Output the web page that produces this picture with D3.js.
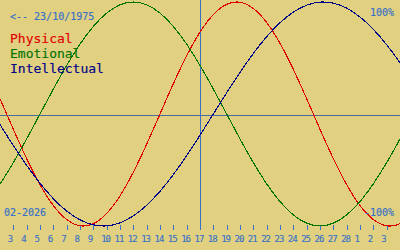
<!DOCTYPE html>
<html><head><meta charset="utf-8">
<script src="https://cdn.jsdelivr.net/npm/d3@7"></script>
<style>
html,body{margin:0;padding:0;background:#e0d080;}
svg{display:block;}
text{font-family:"DejaVu Sans Mono",monospace;}
</style></head>
<body>
<script>
// Day labels: Feb 1 .. Feb 28, Mar 1 .. Mar 5 (index = position in month sequence, Feb 1 = 1)
const dayLabels = ["1","2","3","4","5","6","7","8","9","10","11","12","13","14","15","16","17","18","19","20","21","22","23","24","25","26","27","28","1","2","3","4","5"];
const physical = [0.3984,0.1362,-0.1362,-0.3984,-0.6310,-0.8170,-0.9423,-0.9977,-0.9791,-0.8880,-0.7308,-0.5196,-0.2698,0,0.2698,0.5196,0.7308,0.8880,0.9791,0.9977,0.9423,0.8170,0.6310,0.3984,0.1362,-0.1362,-0.3984,-0.6310,-0.8170,-0.9423,-0.9977,-0.9791,-0.8880];
const emotional = [-0.7818,-0.6235,-0.4339,-0.2225,0,0.2225,0.4339,0.6235,0.7818,0.9010,0.9749,1,0.9749,0.9010,0.7818,0.6235,0.4339,0.2225,0,-0.2225,-0.4339,-0.6235,-0.7818,-0.9010,-0.9749,-1,-0.9749,-0.9010,-0.7818,-0.6235,-0.4339,-0.2225,0];
const intellectual = [0.0951,-0.0951,-0.2817,-0.4582,-0.6182,-0.7557,-0.8660,-0.9450,-0.9898,-0.9989,-0.9718,-0.9096,-0.8146,-0.6901,-0.5406,-0.3717,-0.1893,0,0.1893,0.3717,0.5406,0.6901,0.8146,0.9096,0.9718,0.9989,0.9898,0.9450,0.8660,0.7557,0.6182,0.4582,0.2817];
const todayIndex = 17;          // Feb 17
const firstTick = 3, lastTick = 31; // Feb 3 .. Mar 3
const birthLabel = "<-- 23/10/1975";
const monthLabel = "02-2026";
const legend = ["Physical","Emotional","Intellectual"];

const W = 400, H = 250;
const C = {bg:"#e0d080", axis:"#3670c8", zero:"#4a6c9c", red:"#e00000", green:"#007400", navy:"#000088"};

const svg = d3.select("body").append("svg").attr("width",W).attr("height",H);
svg.append("rect").attr("width",W).attr("height",H).attr("fill",C.bg);

const x = d3.scaleLinear().domain([2,32]).range([0,W]);
const y = d3.scaleLinear().domain([-1,1]).range([226,2]);

// zero line
svg.append("line").attr("x1",0).attr("x2",W)
  .attr("y1",Math.round(y(0))+1.5).attr("y2",Math.round(y(0))+1.5)
  .attr("stroke",C.zero).attr("shape-rendering","crispEdges");
// today line
svg.append("line").attr("x1",Math.round(x(todayIndex))+0.5).attr("x2",Math.round(x(todayIndex))+0.5)
  .attr("y1",0).attr("y2",230)
  .attr("stroke",C.axis).attr("shape-rendering","crispEdges");

// ticks + labels
const ticks = d3.range(firstTick,lastTick+1);
const g = svg.append("g");
g.selectAll("line.t").data(ticks).enter().append("line")
  .attr("x1",d=>Math.round(x(d))+0.5).attr("x2",d=>Math.round(x(d))+0.5)
  .attr("y1",225).attr("y2",230).attr("stroke",C.axis).attr("shape-rendering","crispEdges");
g.selectAll("text").data(ticks).enter().append("text")
  .attr("x",d=>x(d)-5.5).attr("y",242)
  .attr("font-size","9px").attr("letter-spacing","-1px").attr("fill",C.axis)
  .attr("stroke",C.axis).attr("stroke-width",0.12)
  .text(d=>dayLabels[d-1]);

// curves
const line = d3.line().x((d,i)=>x(i+1)).y(d=>y(d)).curve(d3.curveNatural);
[[physical,C.red],[emotional,C.green],[intellectual,C.navy]].forEach(([s,c])=>{
  svg.append("path").attr("d",line(s)).attr("fill","none").attr("stroke",c)
    .attr("stroke-width",1.1).attr("shape-rendering","crispEdges");
});

// texts
function txt(xp,yp,size,color,t,anchor){
  return svg.append("text").attr("x",xp).attr("y",yp).attr("font-size",size).attr("fill",color)
    .attr("stroke",color).attr("stroke-width",0.15).attr("text-anchor",anchor||"start").text(t);
}
txt(10,20,"10px",C.axis,birthLabel);
const lc = [C.red,C.green,C.navy];
legend.forEach((t,i)=>txt(10,43+15*i,"13px",lc[i],t));
txt(394,16,"10px",C.axis,"100%","end");
txt(394,216,"10px",C.axis,"-100%","end");
txt(4,216,"10px",C.axis,monthLabel);
</script>
</body></html>
